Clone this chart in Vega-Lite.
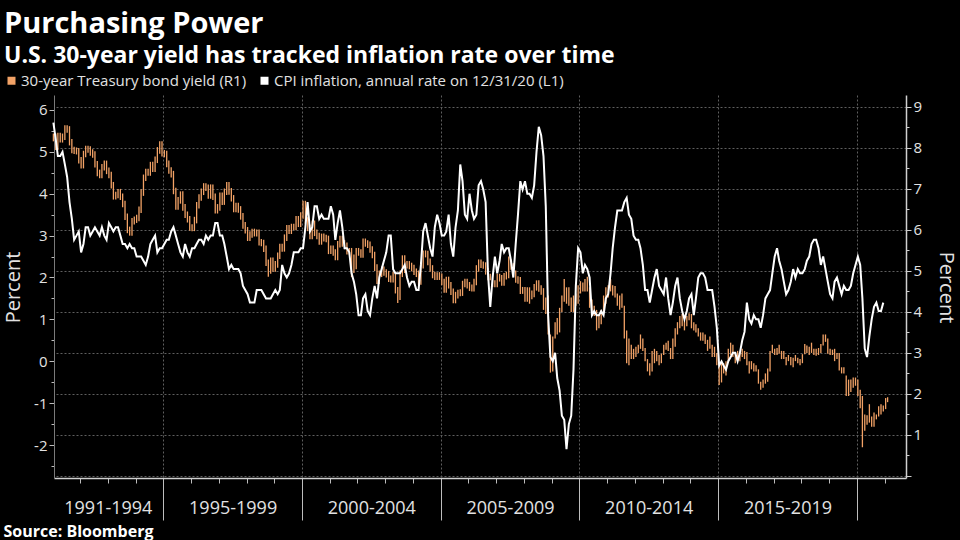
{
  "$schema": "https://vega.github.io/schema/vega-lite/v6.json",
  "width": 852,
  "height": 383,
  "autosize": {"type": "none"},
  "padding": {"left": 54, "top": 95, "right": 54, "bottom": 62},
  "background": "#000000",
  "title": {
    "text": "Purchasing Power",
    "subtitle": "U.S. 30-year yield has tracked inflation rate over time",
    "anchor": "start",
    "frame": "group",
    "dx": -50,
    "offset": 5,
    "font": "Open Sans",
    "fontSize": 29,
    "fontWeight": "bold",
    "color": "#ffffff",
    "subtitleFont": "Open Sans",
    "subtitleFontSize": 23,
    "subtitleFontWeight": "bold",
    "subtitleColor": "#ffffff",
    "subtitlePadding": 6
  },
  "config": {"view": {"stroke": null}},
  "resolve": {"scale": {"y": "independent"}, "axis": {"x": "independent", "y": "independent"}},
  "layer": [
    {
      "data": {
        "values": "d,lo,hi\n1991-01-15,8.16,8.35\n1991-02-15,7.95,8.35\n1991-03-15,7.95,8.37\n1991-04-15,8.13,8.37\n1991-05-15,8.13,8.35\n1991-06-15,8.19,8.55\n1991-07-15,8.37,8.55\n1991-08-15,8.06,8.53\n1991-09-15,7.87,8.22\n1991-10-15,7.85,8.03\n1991-11-15,7.84,8.01\n1991-12-15,7.62,8.00\n1992-01-15,7.50,7.78\n1992-02-15,7.50,7.93\n1992-03-15,7.77,8.05\n1992-04-15,7.88,8.05\n1992-05-15,7.81,8.04\n1992-06-15,7.76,7.97\n1992-07-15,7.52,7.92\n1992-08-15,7.31,7.68\n1992-09-15,7.26,7.47\n1992-10-15,7.26,7.61\n1992-11-15,7.45,7.69\n1992-12-15,7.36,7.69\n1993-01-15,7.26,7.52\n1993-02-15,7.01,7.42\n1993-03-15,6.74,7.17\n1993-04-15,6.74,6.93\n1993-05-15,6.77,7.00\n1993-06-15,6.73,7.00\n1993-07-15,6.55,6.89\n1993-08-15,6.24,6.71\n1993-09-15,5.92,6.40\n1993-10-15,5.86,6.08\n1993-11-15,5.86,6.29\n1993-12-15,6.13,6.33\n1994-01-15,6.17,6.37\n1994-02-15,6.21,6.57\n1994-03-15,6.41,6.99\n1994-04-15,6.83,7.35\n1994-05-15,7.19,7.49\n1994-06-15,7.32,7.49\n1994-07-15,7.32,7.66\n1994-08-15,7.41,7.66\n1994-09-15,7.41,7.79\n1994-10-15,7.63,8.02\n1994-11-15,7.86,8.16\n1994-12-15,7.79,8.16\n1995-01-15,7.77,7.95\n1995-02-15,7.53,7.93\n1995-03-15,7.37,7.69\n1995-04-15,7.28,7.53\n1995-05-15,6.87,7.44\n1995-06-15,6.49,7.03\n1995-07-15,6.49,6.80\n1995-08-15,6.64,6.94\n1995-09-15,6.47,6.94\n1995-10-15,6.29,6.63\n1995-11-15,6.18,6.45\n1995-12-15,5.98,6.34\n1996-01-15,5.97,6.14\n1996-02-15,5.97,6.32\n1996-03-15,6.16,6.68\n1996-04-15,6.52,6.87\n1996-05-15,6.71,7.01\n1996-06-15,6.85,7.14\n1996-07-15,6.95,7.14\n1996-08-15,6.76,7.11\n1996-09-15,6.76,7.11\n1996-10-15,6.73,7.11\n1996-11-15,6.40,6.89\n1996-12-15,6.40,6.63\n1997-01-15,6.47,6.91\n1997-02-15,6.61,6.91\n1997-03-15,6.61,7.01\n1997-04-15,6.85,7.17\n1997-05-15,6.86,7.17\n1997-06-15,6.69,7.02\n1997-07-15,6.43,6.85\n1997-08-15,6.43,6.66\n1997-09-15,6.42,6.66\n1997-10-15,6.25,6.58\n1997-11-15,6.03,6.41\n1997-12-15,5.91,6.19\n1998-01-15,5.73,6.07\n1998-02-15,5.73,5.97\n1998-03-15,5.81,6.03\n1998-04-15,5.84,6.03\n1998-05-15,5.84,6.01\n1998-06-15,5.62,6.01\n1998-07-15,5.60,5.78\n1998-08-15,5.46,5.76\n1998-09-15,5.12,5.62\n1998-10-15,4.86,5.28\n1998-11-15,4.93,5.33\n1998-12-15,4.98,5.33\n1999-01-15,4.98,5.24\n1999-02-15,5.08,5.45\n1999-03-15,5.29,5.66\n1999-04-15,5.47,5.66\n1999-05-15,5.47,5.89\n1999-06-15,5.73,6.12\n1999-07-15,5.90,6.12\n1999-08-15,5.90,6.15\n1999-09-15,5.99,6.15\n1999-10-15,5.99,6.34\n1999-11-15,6.07,6.34\n1999-12-15,6.07,6.43\n2000-01-15,6.27,6.71\n2000-02-15,6.15,6.71\n2000-03-15,5.97,6.31\n2000-04-15,5.77,6.13\n2000-05-15,5.77,6.23\n2000-06-15,5.85,6.23\n2000-07-15,5.77,6.01\n2000-08-15,5.64,5.93\n2000-09-15,5.64,5.91\n2000-10-15,5.72,5.91\n2000-11-15,5.70,5.88\n2000-12-15,5.41,5.86\n2001-01-15,5.41,5.62\n2001-02-15,5.37,5.62\n2001-03-15,5.26,5.53\n2001-04-15,5.26,5.73\n2001-05-15,5.57,5.86\n2001-06-15,5.59,5.86\n2001-07-15,5.53,5.75\n2001-08-15,5.40,5.69\n2001-09-15,5.40,5.56\n2001-10-15,4.85,5.56\n2001-11-15,4.95,5.40\n2001-12-15,5.04,5.56\n2002-01-15,5.37,5.56\n2002-02-15,5.32,5.53\n2002-03-15,5.32,5.79\n2002-04-15,5.59,5.79\n2002-05-15,5.56,5.75\n2002-06-15,5.44,5.72\n2002-07-15,5.31,5.60\n2002-08-15,5.00,5.47\n2002-09-15,4.68,5.16\n2002-10-15,4.68,5.01\n2002-11-15,4.85,5.11\n2002-12-15,4.88,5.11\n2003-01-15,4.84,5.04\n2003-02-15,4.73,5.00\n2003-03-15,4.72,4.89\n2003-04-15,4.72,4.98\n2003-05-15,4.45,4.98\n2003-06-15,4.22,4.61\n2003-07-15,4.29,5.01\n2003-08-15,4.85,5.38\n2003-09-15,4.95,5.38\n2003-10-15,5.06,5.24\n2003-11-15,5.04,5.24\n2003-12-15,4.99,5.20\n2004-01-15,4.90,5.15\n2004-02-15,4.85,5.06\n2004-03-15,4.66,5.01\n2004-04-15,4.66,5.22\n2004-05-15,5.06,5.50\n2004-06-15,5.33,5.50\n2004-07-15,5.14,5.49\n2004-08-15,4.98,5.30\n2004-09-15,4.82,5.14\n2004-10-15,4.78,4.98\n2004-11-15,4.78,4.97\n2004-12-15,4.78,4.97\n2005-01-15,4.65,4.94\n2005-02-15,4.47,4.81\n2005-03-15,4.47,4.86\n2005-04-15,4.57,4.86\n2005-05-15,4.41,4.73\n2005-06-15,4.21,4.57\n2005-07-15,4.21,4.49\n2005-08-15,4.33,4.54\n2005-09-15,4.38,4.55\n2005-10-15,4.39,4.76\n2005-11-15,4.60,4.81\n2005-12-15,4.57,4.81\n2006-01-15,4.51,4.73\n2006-02-15,4.50,4.67\n2006-03-15,4.50,4.81\n2006-04-15,4.65,5.14\n2006-05-15,4.98,5.28\n2006-06-15,5.07,5.28\n2006-07-15,5.05,5.23\n2006-08-15,4.91,5.21\n2006-09-15,4.77,5.07\n2006-10-15,4.77,4.93\n2006-11-15,4.61,4.93\n2006-12-15,4.60,4.77\n2007-01-15,4.60,4.93\n2007-02-15,4.74,4.93\n2007-03-15,4.64,4.90\n2007-04-15,4.64,4.95\n2007-05-15,4.79,4.98\n2007-06-15,4.82,5.35\n2007-07-15,5.03,5.28\n2007-08-15,4.85,5.19\n2007-09-15,4.71,5.01\n2007-10-15,4.69,4.87\n2007-11-15,4.44,4.85\n2007-12-15,4.44,4.61\n2008-01-15,4.25,4.61\n2008-02-15,4.25,4.60\n2008-03-15,4.20,4.60\n2008-04-15,4.31,4.52\n2008-05-15,4.36,4.68\n2008-06-15,4.52,4.77\n2008-07-15,4.49,4.77\n2008-08-15,4.42,4.65\n2008-09-15,4.05,4.58\n2008-10-15,3.95,4.35\n2008-11-15,3.45,4.40\n2008-12-15,2.52,3.45\n2009-01-15,2.55,3.40\n2009-02-15,3.35,3.75\n2009-03-15,3.45,3.85\n2009-04-15,3.50,4.10\n2009-05-15,4.00,4.40\n2009-06-15,4.25,4.80\n2009-07-15,4.20,4.60\n2009-08-15,4.15,4.60\n2009-09-15,4.00,4.35\n2009-10-15,4.00,4.40\n2009-11-15,4.15,4.45\n2009-12-15,4.20,4.65\n2010-01-15,4.45,4.75\n2010-02-15,4.50,4.72\n2010-03-15,4.50,4.80\n2010-04-15,4.50,4.86\n2010-05-15,4.10,4.60\n2010-06-15,3.90,4.30\n2010-07-15,3.90,4.15\n2010-08-15,3.55,4.05\n2010-09-15,3.60,3.95\n2010-10-15,3.70,4.05\n2010-11-15,4.00,4.40\n2010-12-15,4.20,4.60\n2011-01-15,4.35,4.65\n2011-02-15,4.50,4.80\n2011-03-15,4.40,4.65\n2011-04-15,4.35,4.63\n2011-05-15,4.15,4.45\n2011-06-15,4.05,4.40\n2011-07-15,4.10,4.45\n2011-08-15,3.35,4.15\n2011-09-15,2.75,3.55\n2011-10-15,2.70,3.35\n2011-11-15,2.85,3.20\n2011-12-15,2.85,3.10\n2012-01-15,2.90,3.15\n2012-02-15,3.00,3.20\n2012-03-15,3.10,3.45\n2012-04-15,3.05,3.35\n2012-05-15,2.80,3.12\n2012-06-15,2.55,2.85\n2012-07-15,2.45,2.75\n2012-08-15,2.55,3.05\n2012-09-15,2.75,3.10\n2012-10-15,2.80,3.05\n2012-11-15,2.70,2.95\n2012-12-15,2.75,2.98\n2013-01-15,2.95,3.20\n2013-02-15,3.08,3.25\n2013-03-15,3.05,3.30\n2013-04-15,2.85,3.12\n2013-05-15,2.85,3.35\n2013-06-15,3.15,3.60\n2013-07-15,3.45,3.75\n2013-08-15,3.60,3.90\n2013-09-15,3.65,3.95\n2013-10-15,3.55,3.80\n2013-11-15,3.65,3.90\n2013-12-15,3.80,3.97\n2014-01-15,3.60,3.95\n2014-02-15,3.55,3.75\n2014-03-15,3.50,3.70\n2014-04-15,3.40,3.60\n2014-05-15,3.30,3.50\n2014-06-15,3.30,3.50\n2014-07-15,3.22,3.45\n2014-08-15,3.05,3.32\n2014-09-15,3.10,3.40\n2014-10-15,2.90,3.20\n2014-11-15,2.90,3.15\n2014-12-15,2.70,3.00\n2015-01-15,2.22,2.75\n2015-02-15,2.28,2.75\n2015-03-15,2.50,2.75\n2015-04-15,2.45,2.80\n2015-05-15,2.80,3.10\n2015-06-15,2.95,3.25\n2015-07-15,2.90,3.20\n2015-08-15,2.75,3.00\n2015-09-15,2.85,3.05\n2015-10-15,2.80,3.00\n2015-11-15,2.90,3.10\n2015-12-15,2.85,3.05\n2016-01-15,2.70,3.02\n2016-02-15,2.50,2.80\n2016-03-15,2.60,2.80\n2016-04-15,2.55,2.75\n2016-05-15,2.55,2.70\n2016-06-15,2.25,2.60\n2016-07-15,2.10,2.30\n2016-08-15,2.15,2.35\n2016-09-15,2.25,2.50\n2016-10-15,2.30,2.62\n2016-11-15,2.55,3.05\n2016-12-15,3.00,3.20\n2017-01-15,2.95,3.10\n2017-02-15,2.95,3.12\n2017-03-15,2.98,3.20\n2017-04-15,2.85,3.05\n2017-05-15,2.85,3.05\n2017-06-15,2.70,2.90\n2017-07-15,2.80,2.95\n2017-08-15,2.70,2.90\n2017-09-15,2.65,2.88\n2017-10-15,2.80,2.95\n2017-11-15,2.75,2.88\n2017-12-15,2.70,2.85\n2018-01-15,2.75,2.97\n2018-02-15,2.97,3.22\n2018-03-15,3.00,3.18\n2018-04-15,2.95,3.15\n2018-05-15,3.00,3.25\n2018-06-15,2.95,3.10\n2018-07-15,2.93,3.10\n2018-08-15,2.95,3.12\n2018-09-15,3.00,3.22\n2018-10-15,3.18,3.45\n2018-11-15,3.27,3.45\n2018-12-15,2.98,3.35\n2019-01-15,2.95,3.10\n2019-02-15,2.95,3.08\n2019-03-15,2.80,3.10\n2019-04-15,2.85,3.00\n2019-05-15,2.57,3.00\n2019-06-15,2.50,2.65\n2019-07-15,2.50,2.65\n2019-08-15,1.95,2.45\n2019-09-15,1.95,2.35\n2019-10-15,2.05,2.35\n2019-11-15,2.15,2.40\n2019-12-15,2.20,2.40\n2020-01-15,1.95,2.35\n2020-02-15,1.65,2.10\n2020-03-15,0.70,1.95\n2020-04-15,1.10,1.50\n2020-05-15,1.25,1.48\n2020-06-15,1.30,1.75\n2020-07-15,1.20,1.45\n2020-08-15,1.20,1.55\n2020-09-15,1.38,1.50\n2020-10-15,1.45,1.70\n2020-11-15,1.50,1.75\n2020-12-15,1.57,1.72\n2021-01-15,1.63,1.90\n2021-02-10,1.80,1.92",
        "format": {"type": "csv"}
      },
      "mark": {"type": "rule", "strokeWidth": 1.3},
      "encoding": {
        "x": {
          "field": "d", "type": "temporal",
          "scale": {"type": "utc", "domain": [{"year": 1991, "month": 1, "date": 23, "utc": true}, {"year": 2021, "month": 10, "date": 10, "utc": true}]},
          "axis": {
            "orient": "bottom",
            "values": [
              {"year": 1993, "month": 1, "date": 1, "utc": true},
              {"year": 1997, "month": 7, "date": 2, "utc": true},
              {"year": 2002, "month": 7, "date": 2, "utc": true},
              {"year": 2007, "month": 7, "date": 2, "utc": true},
              {"year": 2012, "month": 7, "date": 1, "utc": true},
              {"year": 2017, "month": 7, "date": 2, "utc": true}
            ],
            "labelExpr": "utcyear(datum.value) == 1993 ? '1991-1994' : (floor(utcyear(datum.value)/5)*5) + '-' + (floor(utcyear(datum.value)/5)*5 + 4)",
            "ticks": false, "domain": false, "grid": false,
            "labelOverlap": false, "labelFlush": false,
            "labelPadding": 30, "labelBaseline": "middle", "labelAlign": "center",
            "labelFont": "Open Sans", "labelFontSize": 18, "labelColor": "#e2e2e2",
            "title": "Source: Bloomberg",
            "titleFont": "Open Sans", "titleFontSize": 16, "titleFontWeight": "bold", "titleColor": "#ffffff",
            "titleAnchor": "start", "titleAlign": "left", "titleBaseline": "alphabetic",
            "titleX": -51, "titleY": 58
          }
        },
        "y": {
          "field": "lo", "type": "quantitative",
          "scale": {"domain": [-0.05, 9.29], "nice": false, "zero": false},
          "axis": {
            "orient": "right",
            "values": [0, 0.5, 1, 1.5, 2, 2.5, 3, 3.5, 4, 4.5, 5, 5.5, 6, 6.5, 7, 7.5, 8, 8.5, 9],
            "labelExpr": "datum.value % 1 == 0 && datum.value > 0 ? '' + datum.value : ''",
            "tickSize": {"expr": "datum.value % 1 == 0 ? 5 : 3"},
            "tickColor": "#cfcfcf",
            "domainColor": "#d0d0d0", "domainWidth": 1.5,
            "grid": true,
            "gridColor": {"expr": "datum.value % 1 == 0 ? '#5e5e5e' : 'transparent'"},
            "gridDash": [2, 2], "gridWidth": 1,
            "labelFont": "Open Sans", "labelFontSize": 15, "labelColor": "#e2e2e2", "labelPadding": 2,
            "title": "Percent", "titleFont": "Open Sans", "titleFontSize": 20, "titleFontWeight": "normal",
            "titleColor": "#e2e2e2", "titleAngle": 90, "titleX": 39, "titleY": 192,
            "titleAlign": "center", "titleBaseline": "middle"
          }
        },
        "y2": {"field": "hi"},
        "color": {
          "datum": "30-year Treasury bond yield (R1)",
          "scale": {"domain": ["30-year Treasury bond yield (R1)", "CPI inflation, annual rate on 12/31/20 (L1)"], "range": ["#f2a266", "#ffffff"]},
          "legend": {
            "orient": "none", "legendX": -50, "legendY": -22, "direction": "horizontal",
            "title": null, "symbolType": "square", "symbolSize": 64, "symbolStrokeWidth": 0,
            "labelFont": "Open Sans", "labelFontSize": 15, "labelColor": "#e2e2e2", "labelLimit": 600,
            "labelOffset": 2, "columnPadding": 10, "padding": 0, "offset": 0,
            "encode": {"symbols": {"update": {"fill": {"scale": "color", "field": "value"}, "stroke": {"value": "transparent"}}}}
          }
        }
      }
    },
    {
      "data": {
        "values": "d,v\n1991-01-15,5.7\n1991-02-15,5.3\n1991-03-15,4.9\n1991-04-15,4.9\n1991-05-15,5.0\n1991-06-15,4.7\n1991-07-15,4.4\n1991-08-15,3.8\n1991-09-15,3.4\n1991-10-15,2.9\n1991-11-15,3.0\n1991-12-15,3.1\n1992-01-15,2.6\n1992-02-15,2.8\n1992-03-15,3.2\n1992-04-15,3.2\n1992-05-15,3.0\n1992-06-15,3.1\n1992-07-15,3.2\n1992-08-15,3.1\n1992-09-15,3.0\n1992-10-15,3.2\n1992-11-15,3.0\n1992-12-15,2.9\n1993-01-15,3.3\n1993-02-15,3.2\n1993-03-15,3.1\n1993-04-15,3.2\n1993-05-15,3.2\n1993-06-15,3.0\n1993-07-15,2.8\n1993-08-15,2.8\n1993-09-15,2.7\n1993-10-15,2.8\n1993-11-15,2.7\n1993-12-15,2.7\n1994-01-15,2.5\n1994-02-15,2.5\n1994-03-15,2.5\n1994-04-15,2.4\n1994-05-15,2.3\n1994-06-15,2.5\n1994-07-15,2.8\n1994-08-15,2.9\n1994-09-15,3.0\n1994-10-15,2.6\n1994-11-15,2.7\n1994-12-15,2.7\n1995-01-15,2.8\n1995-02-15,2.9\n1995-03-15,2.9\n1995-04-15,3.1\n1995-05-15,3.2\n1995-06-15,3.0\n1995-07-15,2.8\n1995-08-15,2.6\n1995-09-15,2.5\n1995-10-15,2.8\n1995-11-15,2.6\n1995-12-15,2.5\n1996-01-15,2.7\n1996-02-15,2.7\n1996-03-15,2.8\n1996-04-15,2.9\n1996-05-15,2.9\n1996-06-15,2.8\n1996-07-15,3.0\n1996-08-15,2.9\n1996-09-15,3.0\n1996-10-15,3.0\n1996-11-15,3.3\n1996-12-15,3.3\n1997-01-15,3.0\n1997-02-15,3.0\n1997-03-15,2.8\n1997-04-15,2.5\n1997-05-15,2.2\n1997-06-15,2.3\n1997-07-15,2.2\n1997-08-15,2.2\n1997-09-15,2.2\n1997-10-15,2.1\n1997-11-15,1.8\n1997-12-15,1.7\n1998-01-15,1.6\n1998-02-15,1.4\n1998-03-15,1.4\n1998-04-15,1.4\n1998-05-15,1.7\n1998-06-15,1.7\n1998-07-15,1.7\n1998-08-15,1.6\n1998-09-15,1.5\n1998-10-15,1.5\n1998-11-15,1.5\n1998-12-15,1.6\n1999-01-15,1.7\n1999-02-15,1.6\n1999-03-15,1.7\n1999-04-15,2.3\n1999-05-15,2.1\n1999-06-15,2.0\n1999-07-15,2.1\n1999-08-15,2.3\n1999-09-15,2.6\n1999-10-15,2.6\n1999-11-15,2.6\n1999-12-15,2.7\n2000-01-15,2.7\n2000-02-15,3.2\n2000-03-15,3.8\n2000-04-15,3.1\n2000-05-15,3.2\n2000-06-15,3.7\n2000-07-15,3.7\n2000-08-15,3.4\n2000-09-15,3.5\n2000-10-15,3.4\n2000-11-15,3.4\n2000-12-15,3.4\n2001-01-15,3.7\n2001-02-15,3.5\n2001-03-15,2.9\n2001-04-15,3.3\n2001-05-15,3.6\n2001-06-15,3.2\n2001-07-15,2.7\n2001-08-15,2.7\n2001-09-15,2.6\n2001-10-15,2.1\n2001-11-15,1.9\n2001-12-15,1.6\n2002-01-15,1.1\n2002-02-15,1.1\n2002-03-15,1.5\n2002-04-15,1.6\n2002-05-15,1.2\n2002-06-15,1.1\n2002-07-15,1.5\n2002-08-15,1.8\n2002-09-15,1.5\n2002-10-15,2.0\n2002-11-15,2.2\n2002-12-15,2.4\n2003-01-15,2.6\n2003-02-15,3.0\n2003-03-15,3.0\n2003-04-15,2.2\n2003-05-15,2.1\n2003-06-15,2.1\n2003-07-15,2.1\n2003-08-15,2.2\n2003-09-15,2.3\n2003-10-15,2.0\n2003-11-15,1.8\n2003-12-15,1.9\n2004-01-15,1.9\n2004-02-15,1.7\n2004-03-15,1.7\n2004-04-15,2.3\n2004-05-15,3.1\n2004-06-15,3.3\n2004-07-15,3.0\n2004-08-15,2.7\n2004-09-15,2.5\n2004-10-15,3.2\n2004-11-15,3.5\n2004-12-15,3.3\n2005-01-15,3.0\n2005-02-15,3.0\n2005-03-15,3.1\n2005-04-15,3.5\n2005-05-15,2.8\n2005-06-15,2.5\n2005-07-15,3.2\n2005-08-15,3.6\n2005-09-15,4.7\n2005-10-15,4.3\n2005-11-15,3.5\n2005-12-15,3.4\n2006-01-15,4.0\n2006-02-15,3.6\n2006-03-15,3.4\n2006-04-15,3.5\n2006-05-15,4.2\n2006-06-15,4.3\n2006-07-15,4.1\n2006-08-15,3.8\n2006-09-15,2.1\n2006-10-15,1.3\n2006-11-15,2.0\n2006-12-15,2.5\n2007-01-15,2.1\n2007-02-15,2.4\n2007-03-15,2.8\n2007-04-15,2.6\n2007-05-15,2.7\n2007-06-15,2.7\n2007-07-15,2.4\n2007-08-15,2.0\n2007-09-15,2.8\n2007-10-15,3.5\n2007-11-15,4.3\n2007-12-15,4.1\n2008-01-15,4.3\n2008-02-15,4.0\n2008-03-15,4.0\n2008-04-15,3.9\n2008-05-15,4.2\n2008-06-15,5.0\n2008-07-15,5.6\n2008-08-15,5.4\n2008-09-15,4.9\n2008-10-15,3.7\n2008-11-15,1.1\n2008-12-15,0.1\n2009-01-15,0.0\n2009-02-15,0.2\n2009-03-15,-0.4\n2009-04-15,-0.7\n2009-05-15,-1.3\n2009-06-15,-1.4\n2009-07-15,-2.1\n2009-08-15,-1.5\n2009-09-15,-1.3\n2009-10-15,-0.2\n2009-11-15,1.8\n2009-12-15,2.7\n2010-01-15,2.6\n2010-02-15,2.1\n2010-03-15,2.3\n2010-04-15,2.2\n2010-05-15,2.0\n2010-06-15,1.1\n2010-07-15,1.2\n2010-08-15,1.1\n2010-09-15,1.1\n2010-10-15,1.2\n2010-11-15,1.1\n2010-12-15,1.5\n2011-01-15,1.6\n2011-02-15,2.1\n2011-03-15,2.7\n2011-04-15,3.2\n2011-05-15,3.6\n2011-06-15,3.6\n2011-07-15,3.6\n2011-08-15,3.8\n2011-09-15,3.9\n2011-10-15,3.5\n2011-11-15,3.4\n2011-12-15,3.0\n2012-01-15,2.9\n2012-02-15,2.9\n2012-03-15,2.7\n2012-04-15,2.3\n2012-05-15,1.7\n2012-06-15,1.7\n2012-07-15,1.4\n2012-08-15,1.7\n2012-09-15,2.0\n2012-10-15,2.2\n2012-11-15,1.8\n2012-12-15,1.7\n2013-01-15,1.6\n2013-02-15,2.0\n2013-03-15,1.5\n2013-04-15,1.1\n2013-05-15,1.4\n2013-06-15,1.8\n2013-07-15,2.0\n2013-08-15,1.5\n2013-09-15,1.2\n2013-10-15,1.0\n2013-11-15,1.2\n2013-12-15,1.5\n2014-01-15,1.6\n2014-02-15,1.1\n2014-03-15,1.5\n2014-04-15,2.0\n2014-05-15,2.1\n2014-06-15,2.1\n2014-07-15,2.0\n2014-08-15,1.7\n2014-09-15,1.7\n2014-10-15,1.7\n2014-11-15,1.3\n2014-12-15,0.8\n2015-01-15,-0.1\n2015-02-15,0.0\n2015-03-15,-0.1\n2015-04-15,-0.2\n2015-05-15,0.0\n2015-06-15,0.1\n2015-07-15,0.2\n2015-08-15,0.2\n2015-09-15,0.0\n2015-10-15,0.2\n2015-11-15,0.5\n2015-12-15,0.7\n2016-01-15,1.4\n2016-02-15,1.0\n2016-03-15,0.9\n2016-04-15,1.1\n2016-05-15,1.0\n2016-06-15,1.0\n2016-07-15,0.8\n2016-08-15,1.1\n2016-09-15,1.5\n2016-10-15,1.6\n2016-11-15,1.7\n2016-12-15,2.1\n2017-01-15,2.5\n2017-02-15,2.7\n2017-03-15,2.4\n2017-04-15,2.2\n2017-05-15,1.9\n2017-06-15,1.6\n2017-07-15,1.7\n2017-08-15,1.9\n2017-09-15,2.2\n2017-10-15,2.0\n2017-11-15,2.2\n2017-12-15,2.1\n2018-01-15,2.1\n2018-02-15,2.2\n2018-03-15,2.4\n2018-04-15,2.5\n2018-05-15,2.8\n2018-06-15,2.9\n2018-07-15,2.9\n2018-08-15,2.7\n2018-09-15,2.3\n2018-10-15,2.5\n2018-11-15,2.2\n2018-12-15,1.9\n2019-01-15,1.6\n2019-02-15,1.5\n2019-03-15,1.9\n2019-04-15,2.0\n2019-05-15,1.8\n2019-06-15,1.6\n2019-07-15,1.8\n2019-08-15,1.7\n2019-09-15,1.7\n2019-10-15,1.8\n2019-11-15,2.1\n2019-12-15,2.3\n2020-01-15,2.5\n2020-02-15,2.3\n2020-03-15,1.5\n2020-04-15,0.3\n2020-05-15,0.1\n2020-06-15,0.6\n2020-07-15,1.0\n2020-08-15,1.3\n2020-09-15,1.4\n2020-10-15,1.2\n2020-11-15,1.2\n2020-12-15,1.4",
        "format": {"type": "csv"}
      },
      "mark": {"type": "line", "strokeWidth": 2},
      "encoding": {
        "x": {
          "field": "d", "type": "temporal",
          "axis": {
            "orient": "bottom",
            "values": [
              {"year": 1992, "month": 1, "date": 1, "utc": true}, {"year": 1993, "month": 1, "date": 1, "utc": true},
              {"year": 1994, "month": 1, "date": 1, "utc": true}, {"year": 1995, "month": 1, "date": 1, "utc": true},
              {"year": 1996, "month": 1, "date": 1, "utc": true}, {"year": 1997, "month": 1, "date": 1, "utc": true},
              {"year": 1998, "month": 1, "date": 1, "utc": true}, {"year": 1999, "month": 1, "date": 1, "utc": true},
              {"year": 2000, "month": 1, "date": 1, "utc": true}, {"year": 2001, "month": 1, "date": 1, "utc": true},
              {"year": 2002, "month": 1, "date": 1, "utc": true}, {"year": 2003, "month": 1, "date": 1, "utc": true},
              {"year": 2004, "month": 1, "date": 1, "utc": true}, {"year": 2005, "month": 1, "date": 1, "utc": true},
              {"year": 2006, "month": 1, "date": 1, "utc": true}, {"year": 2007, "month": 1, "date": 1, "utc": true},
              {"year": 2008, "month": 1, "date": 1, "utc": true}, {"year": 2009, "month": 1, "date": 1, "utc": true},
              {"year": 2010, "month": 1, "date": 1, "utc": true}, {"year": 2011, "month": 1, "date": 1, "utc": true},
              {"year": 2012, "month": 1, "date": 1, "utc": true}, {"year": 2013, "month": 1, "date": 1, "utc": true},
              {"year": 2014, "month": 1, "date": 1, "utc": true}, {"year": 2015, "month": 1, "date": 1, "utc": true},
              {"year": 2016, "month": 1, "date": 1, "utc": true}, {"year": 2017, "month": 1, "date": 1, "utc": true},
              {"year": 2018, "month": 1, "date": 1, "utc": true}, {"year": 2019, "month": 1, "date": 1, "utc": true},
              {"year": 2020, "month": 1, "date": 1, "utc": true}, {"year": 2021, "month": 1, "date": 1, "utc": true}
            ],
            "labels": false, "title": null,
            "domain": true, "domainColor": "#d0d0d0", "domainWidth": 1.5,
            "ticks": true, "tickColor": "#bdbdbd", "tickWidth": 1,
            "tickSize": {"expr": "utcyear(datum.value) % 5 == 0 ? 42 : 5"},
            "grid": true,
            "gridColor": {"expr": "utcyear(datum.value) % 5 == 0 ? '#5e5e5e' : 'transparent'"},
            "gridDash": [2, 2], "gridWidth": 1
          }
        },
        "y": {
          "field": "v", "type": "quantitative",
          "scale": {"domain": [-2.788, 6.358], "nice": false, "zero": false},
          "axis": {
            "orient": "left",
            "values": [-2.5, -2, -1.5, -1, -0.5, 0, 0.5, 1, 1.5, 2, 2.5, 3, 3.5, 4, 4.5, 5, 5.5, 6],
            "labelExpr": "datum.value % 1 == 0 ? '' + datum.value : ''",
            "tickSize": {"expr": "datum.value % 1 == 0 ? 5 : 3"},
            "tickColor": "#bdbdbd",
            "domainColor": "#7a7a7a", "domainWidth": 1,
            "grid": false,
            "labelFont": "Open Sans", "labelFontSize": 15, "labelColor": "#e2e2e2", "labelPadding": 2,
            "title": "Percent", "titleFont": "Open Sans", "titleFontSize": 20, "titleFontWeight": "normal",
            "titleColor": "#e2e2e2", "titleAngle": 270, "titleX": -41, "titleY": 192,
            "titleAlign": "center", "titleBaseline": "middle"
          }
        },
        "color": {"datum": "CPI inflation, annual rate on 12/31/20 (L1)"}
      }
    }
  ]
}
